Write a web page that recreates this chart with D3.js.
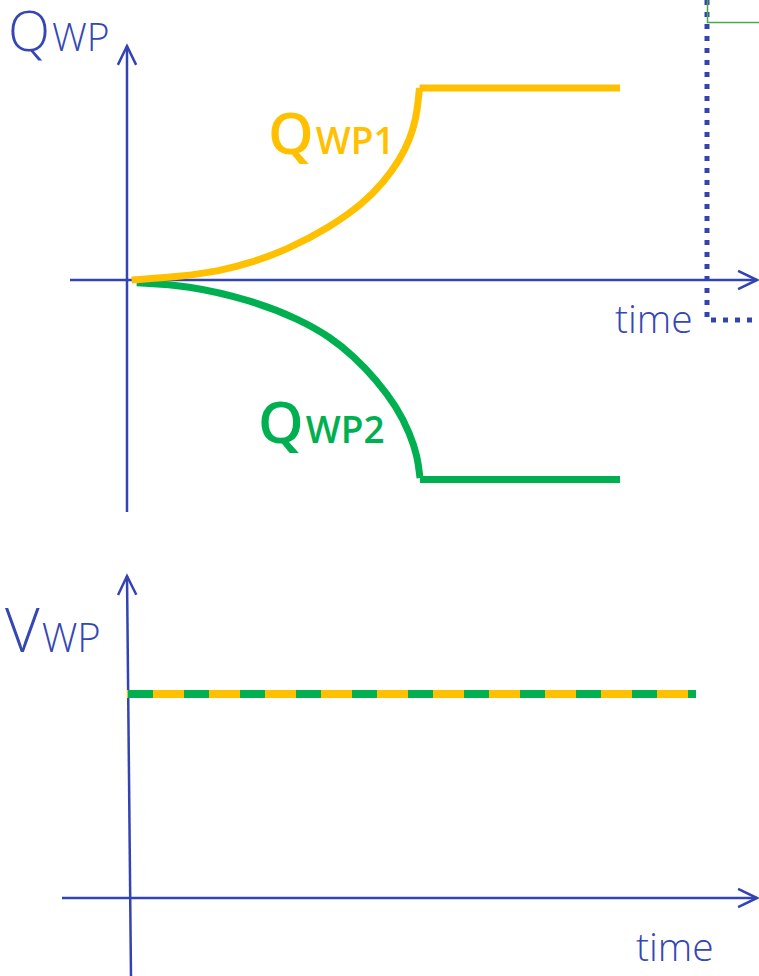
<!DOCTYPE html>
<html>
<head>
<meta charset="utf-8">
<script src="https://cdn.jsdelivr.net/npm/d3@7"></script>
<style>
  body { margin: 0; background: #fff; }
  svg { display: block; }
  text { font-family: "Open Sans", "Noto Sans", sans-serif; }
</style>
</head>
<body>
<svg id="chart"></svg>
<script>
// curve points; time in arbitrary units (0..100), Q relative to plateau
const q1Time  = [0.94, 10.6, 18.6, 24.6, 31.9, 40.6, 47.3, 51.3, 54.6, 56.6, 57.8, 58.3, 58.5];
const q1Value = [0, 0.017, 0.045, 0.085, 0.15, 0.264, 0.385, 0.488, 0.603, 0.705, 0.805, 0.91, 0.96];
const q1Plateau = { t: [58.5, 98.6], q: 0.96 };

const q2Time  = [1.94, 11.9, 25.2, 34.6, 40.6, 45.3, 49.9, 53.9, 56.6, 58.1, 58.6];
const q2Value = [-0.014, -0.025, -0.103, -0.198, -0.285, -0.38, -0.5, -0.633, -0.767, -0.883, -0.99];
const q2Plateau = { t: [58.6, 98.6], q: -0.997 };

const vwpTime = [0, 113.8];
const vwpValue = 0.68;

const colors = { axis: "#3344b2", q1: "#ffc000", q2: "#00b050", text: "#3547b4" };

const W = 759, H = 976;
const svg = d3.select("#chart").attr("width", W).attr("height", H);

const tScale = d3.scaleLinear().domain([0, 100]).range([127, 627]);
const qScale = d3.scaleLinear().domain([-1, 1]).range([480, 80]);
const vScale = d3.scaleLinear().domain([0, 1]).range([898, 598]);

// arrows
function arrow(g, x1, y1, x2, y2) {
    g.append("line").attr("x1", x1).attr("y1", y1).attr("x2", x2).attr("y2", y2)
        .attr("stroke", colors.axis).attr("stroke-width", 2.5);
    const ang = Math.atan2(y2 - y1, x2 - x1), L = 21, a = 0.45;
    const head = [
        [x2 - L * Math.cos(ang - a), y2 - L * Math.sin(ang - a)],
        [x2, y2],
        [x2 - L * Math.cos(ang + a), y2 - L * Math.sin(ang + a)]
    ];
    g.append("path").attr("d", d3.line()(head))
        .attr("fill", "none").attr("stroke", colors.axis).attr("stroke-width", 2.5)
        .attr("stroke-linejoin", "miter");
}

// dotted frame at the right edge (part of a neighbouring figure)
svg.append("path")
    .attr("d", d3.line()([[707, 0], [707, 320], [759, 320]]))
    .attr("fill", "none").attr("stroke", colors.axis)
    .attr("stroke-width", 5).attr("stroke-dasharray", "5,7");
svg.append("path")
    .attr("d", d3.line()([[707.5, 0], [707.5, 22.5], [759, 22.5]]))
    .attr("fill", "none").attr("stroke", "#4aa84a").attr("stroke-width", 1.5);

// ---- top chart ----
const topG = svg.append("g");
arrow(topG, tScale(0), 512, tScale(0), 46);
arrow(topG, 70, qScale(0), 757, qScale(0));

const line = d3.line().x(d => tScale(d[0])).y(d => qScale(d[1]));
const curve = d3.line().x(d => tScale(d[0])).y(d => qScale(d[1])).curve(d3.curveBasis);

topG.append("path").attr("d", curve(q2Time.map((t, i) => [t, q2Value[i]])))
    .attr("fill", "none").attr("stroke", colors.q2).attr("stroke-width", 7);
topG.append("path").attr("d", line(q2Plateau.t.map(t => [t, q2Plateau.q])))
    .attr("fill", "none").attr("stroke", colors.q2).attr("stroke-width", 7);

topG.append("path").attr("d", curve(q1Time.map((t, i) => [t, q1Value[i]])))
    .attr("fill", "none").attr("stroke", colors.q1).attr("stroke-width", 7);
topG.append("path").attr("d", line(q1Plateau.t.map(t => [t, q1Plateau.q])))
    .attr("fill", "none").attr("stroke", colors.q1).attr("stroke-width", 7);

function label(g, x, y, big, small, size1, size2, color, weight) {
    const t = g.append("text").attr("x", x).attr("y", y).attr("fill", color)
        .attr("font-weight", weight);
    t.append("tspan").attr("font-size", size1).text(big);
    t.append("tspan").attr("font-size", size2).attr("dx", 2).text(small);
}

label(topG, 8, 51, "Q", "WP", 55, 39, colors.text, 300);
label(topG, 268, 154, "Q", "WP1", 58, 37, colors.q1, 600);
label(topG, 258, 443, "Q", "WP2", 58, 37, colors.q2, 600);

topG.append("text").attr("x", 615).attr("y", 333).attr("fill", colors.text)
    .attr("font-size", 39).attr("font-weight", 300).text("time");

// ---- bottom chart ----
const botG = svg.append("g");
arrow(botG, 131, 976, 127, 576);
arrow(botG, 62, vScale(0), 757, vScale(0));

const vline = d3.line().x(d => tScale(d)).y(() => vScale(vwpValue));
botG.append("path").attr("d", vline(vwpTime))
    .attr("fill", "none").attr("stroke", colors.q1).attr("stroke-width", 8);
botG.append("path").attr("d", vline(vwpTime))
    .attr("fill", "none").attr("stroke", colors.q2).attr("stroke-width", 8)
    .attr("stroke-dasharray", "25,31").attr("stroke-dashoffset", -1);

label(botG, 5, 652, "V", "WP", 60, 40, colors.text, 300);
botG.append("text").attr("x", 636).attr("y", 961).attr("fill", colors.text)
    .attr("font-size", 39).attr("font-weight", 300).text("time");
</script>
</body>
</html>
